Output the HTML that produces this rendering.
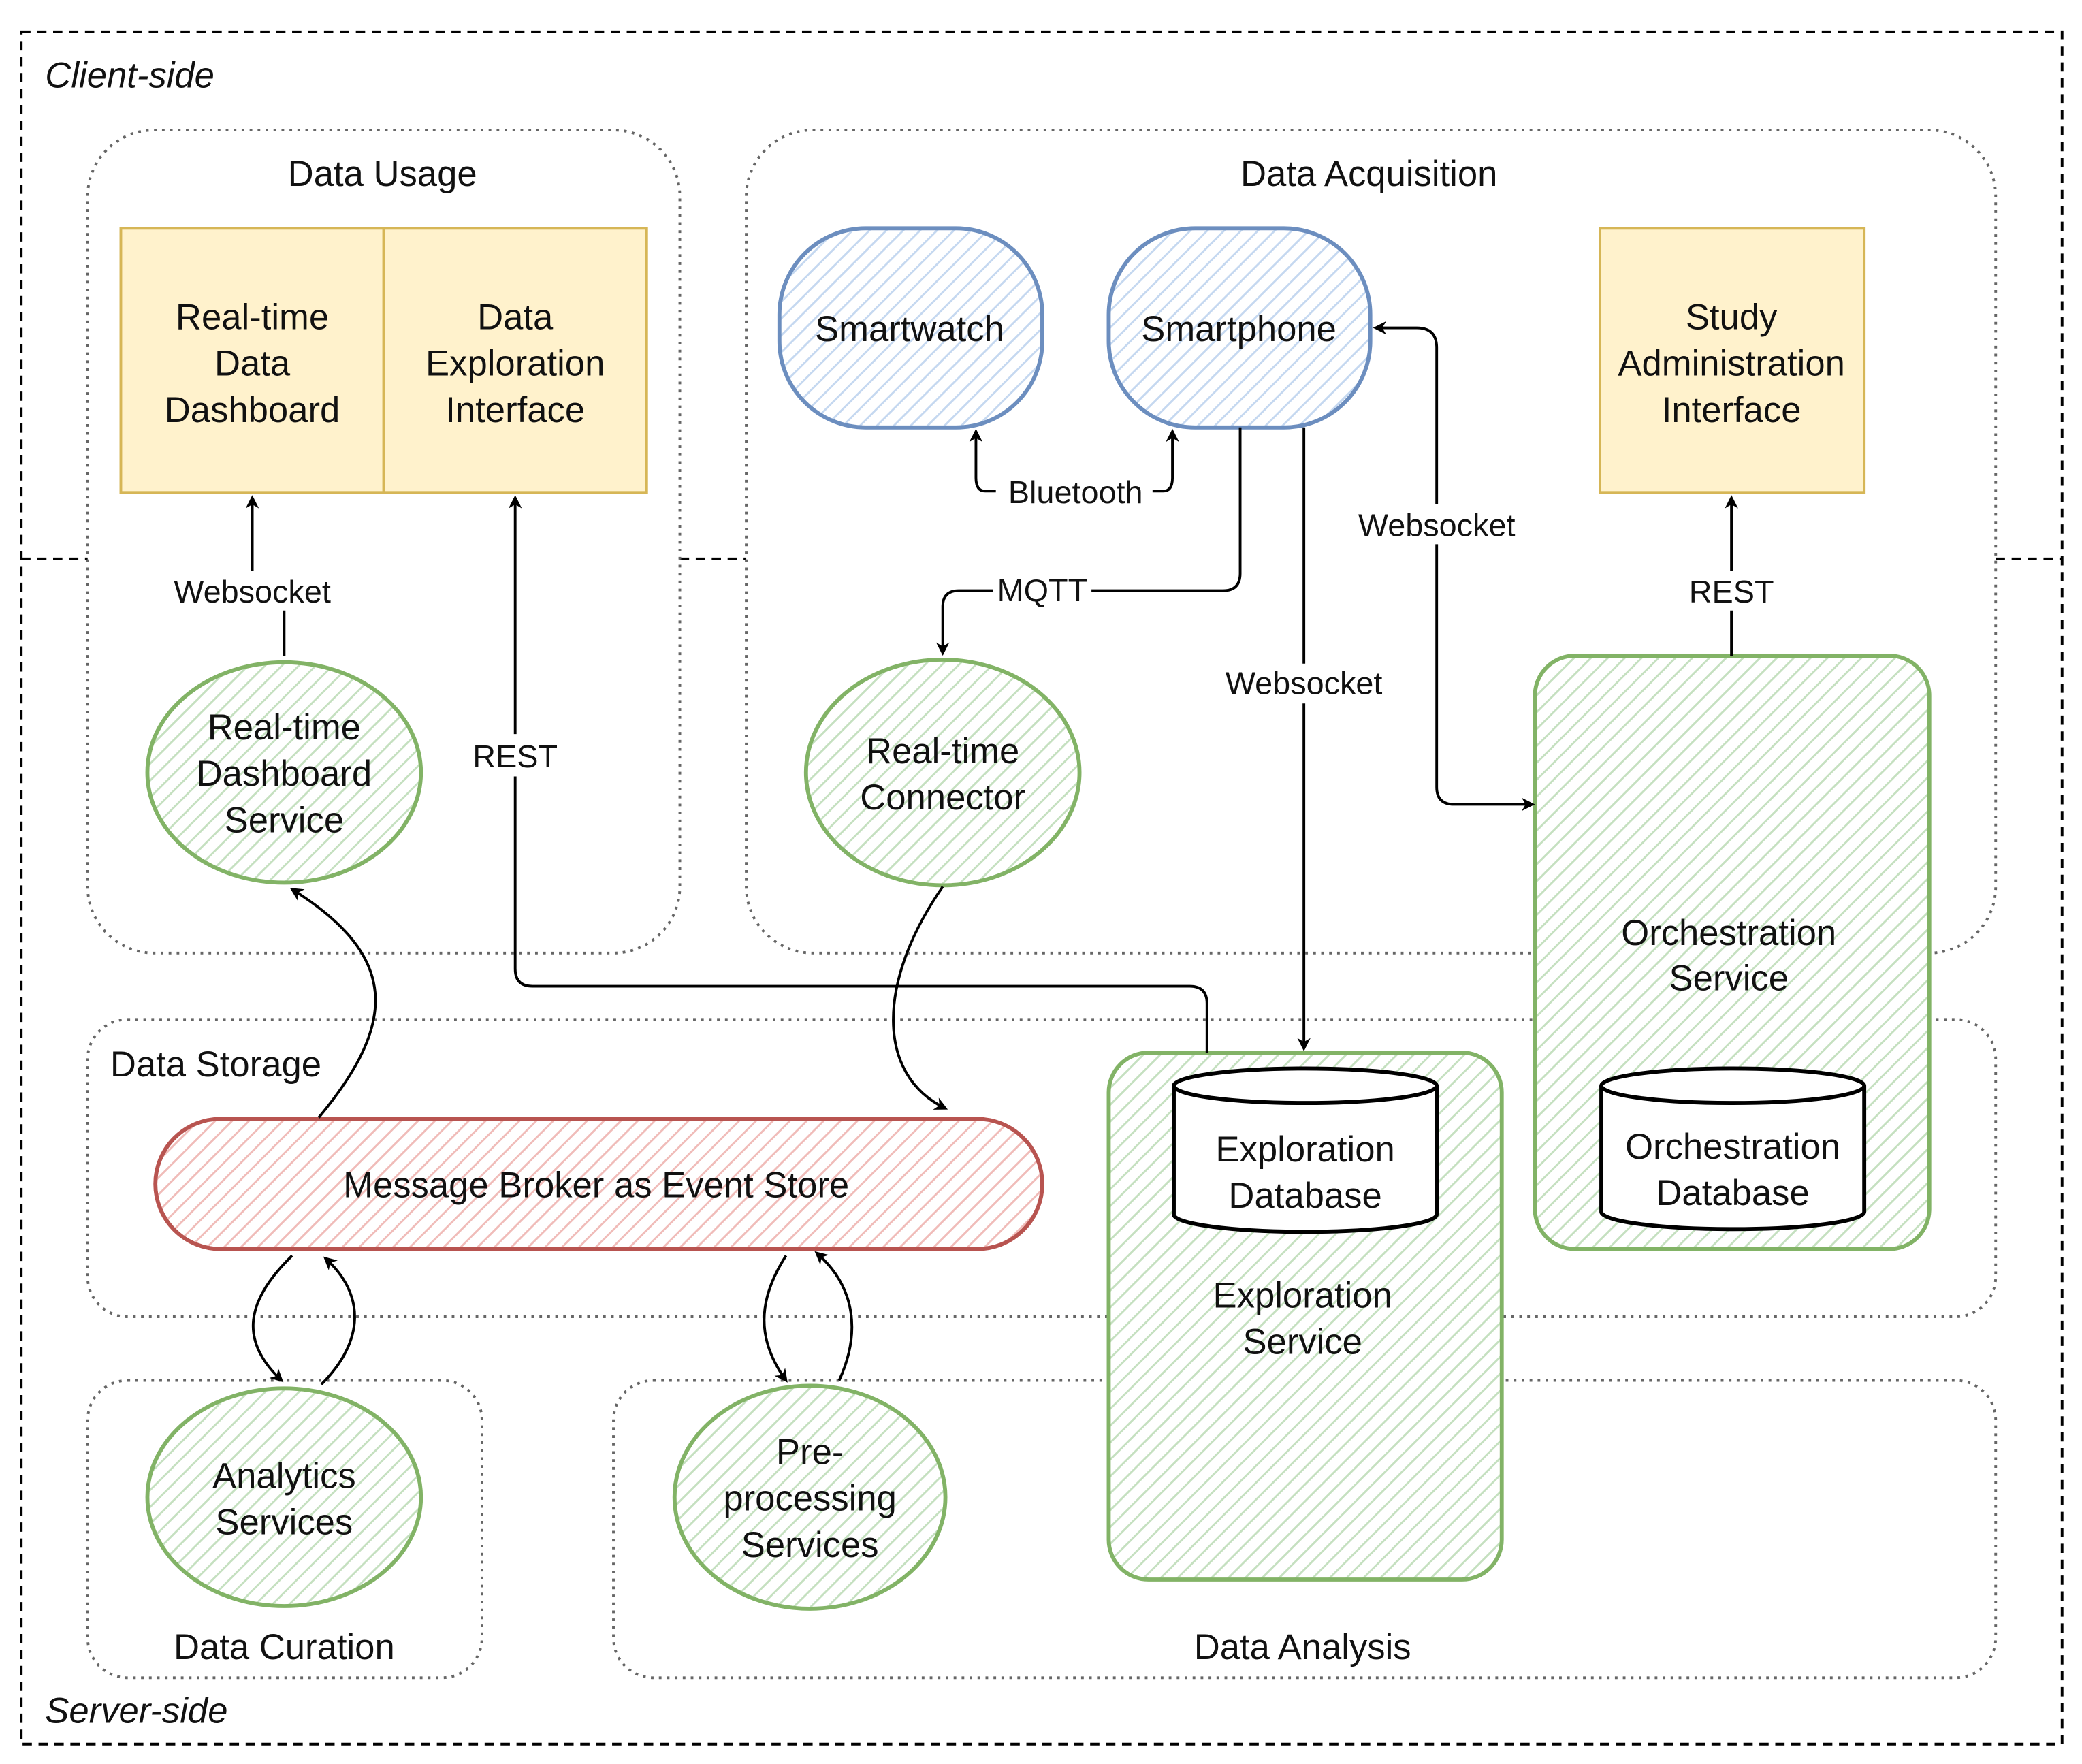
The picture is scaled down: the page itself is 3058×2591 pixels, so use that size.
<!DOCTYPE html>
<html><head><meta charset="utf-8"><style>
html,body{margin:0;padding:0;background:#fff}
svg{display:block}
text{font-family:"Liberation Sans",sans-serif;font-size:27px;fill:#111;text-anchor:middle}
.lbl{font-size:24px}
</style></head><body>
<svg width="3058" height="2591" viewBox="0 0 1568 1329" preserveAspectRatio="none" xmlns="http://www.w3.org/2000/svg">
<defs>
<pattern id="hg" width="9" height="9" patternUnits="userSpaceOnUse" patternTransform="rotate(45)">
<rect width="9" height="9" fill="#fff"/><line x1="0" y1="0" x2="0" y2="9" stroke="#c5e0c0" stroke-width="3"/></pattern>
<pattern id="hb" width="9" height="9" patternUnits="userSpaceOnUse" patternTransform="rotate(45)">
<rect width="9" height="9" fill="#fff"/><line x1="0" y1="0" x2="0" y2="9" stroke="#c5d8f0" stroke-width="3"/></pattern>
<pattern id="hr" width="9" height="9" patternUnits="userSpaceOnUse" patternTransform="rotate(45)">
<rect width="9" height="9" fill="#fff"/><line x1="0" y1="0" x2="0" y2="9" stroke="#f0bcb9" stroke-width="3"/></pattern>
<marker id="a" markerWidth="10" markerHeight="10" refX="8" refY="5" orient="auto" markerUnits="userSpaceOnUse"><path d="M0,0 L10,5 L0,10 L3,5z" fill="#000"/></marker>
</defs>
<rect x="16" y="24" width="1537" height="1290" fill="none" stroke="#000" stroke-width="2" stroke-dasharray="7,5"/>
<g stroke="#000" stroke-width="2" stroke-dasharray="7,5"><line x1="16" y1="421" x2="66" y2="421"/><line x1="512" y1="421" x2="562" y2="421"/><line x1="1503" y1="421" x2="1553" y2="421"/></g>
<text x="34" y="66" style="text-anchor:start;font-style:italic">Client-side</text>
<text x="34" y="1298" style="text-anchor:start;font-style:italic">Server-side</text>
<g fill="none" stroke="#666" stroke-width="2" stroke-dasharray="2,4">
<rect x="66" y="98" width="446" height="620" rx="50"/>
<rect x="562" y="98" width="941" height="620" rx="50"/>
<rect x="66" y="768" width="1437" height="224" rx="30"/>
<rect x="66" y="1040" width="297" height="224" rx="30"/>
<rect x="462" y="1040" width="1041" height="224" rx="30"/>
</g>
<text x="288" y="140">Data Usage</text>
<text x="1031" y="140">Data Acquisition</text>
<text x="83" y="811" style="text-anchor:start">Data Storage</text>
<text x="214" y="1250">Data Curation</text>
<text x="981" y="1250">Data Analysis</text>
<g fill="#fff2cc" stroke="#d6b656" stroke-width="2">
<rect x="91" y="172" width="198" height="199"/><rect x="289" y="172" width="198" height="199"/><rect x="1205" y="172" width="199" height="199"/></g>
<text x="190" y="248">Real-time</text><text x="190" y="283">Data</text><text x="190" y="318">Dashboard</text>
<text x="388" y="248">Data</text><text x="388" y="283">Exploration</text><text x="388" y="318">Interface</text>
<text x="1304" y="248">Study</text><text x="1304" y="283">Administration</text><text x="1304" y="318">Interface</text>
<g fill="url(#hb)" stroke="#6c8ebf" stroke-width="3">
<rect x="587" y="172" width="198" height="150" rx="65"/><rect x="835" y="172" width="197" height="150" rx="65"/></g>
<text x="685" y="257">Smartwatch</text><text x="933" y="257">Smartphone</text>
<g fill="url(#hg)" stroke="#82b366" stroke-width="3">
<rect x="1156" y="494" width="297" height="447" rx="30"/>
<rect x="835" y="793" width="296" height="397" rx="30"/>
<ellipse cx="214" cy="582" rx="103" ry="83"/>
<ellipse cx="710" cy="582" rx="103" ry="85"/>
<ellipse cx="214" cy="1128" rx="103" ry="82"/>
<ellipse cx="610" cy="1128" rx="102" ry="84"/>
</g>
<rect x="117" y="843" width="668" height="98" rx="49" fill="url(#hr)" stroke="#b85450" stroke-width="3"/>
<text x="449" y="902">Message Broker as Event Store</text>
<text x="1302" y="712">Orchestration</text><text x="1302" y="746">Service</text>
<text x="981" y="985">Exploration</text><text x="981" y="1020">Service</text>
<text x="214" y="557">Real-time</text><text x="214" y="592">Dashboard</text><text x="214" y="627">Service</text>
<text x="710" y="575">Real-time</text><text x="710" y="610">Connector</text>
<text x="214" y="1121">Analytics</text><text x="214" y="1156">Services</text>
<text x="610" y="1103">Pre-</text><text x="610" y="1138">processing</text><text x="610" y="1173">Services</text>
<g fill="#fff" stroke="#000" stroke-width="3">
<path d="M884,818 v97 a99,13 0 0 0 198,0 v-97"/><ellipse cx="983" cy="818" rx="99" ry="13"/>
<path d="M1206,818 v95 a99,13 0 0 0 198,0 v-95"/><ellipse cx="1305" cy="818" rx="99" ry="13"/>
</g>
<text x="983" y="875">Exploration</text><text x="983" y="910">Database</text>
<text x="1305" y="873">Orchestration</text><text x="1305" y="908">Database</text>
<g fill="none" stroke="#000" stroke-width="2">
<path d="M190,430 V375" marker-end="url(#a)"/><path d="M214,460 V494"/>
<path d="M388,553 V375" marker-end="url(#a)"/>
<path d="M388,585 V730 q0,13 13,13 H896 q13,0 13,13 V793"/>
<path d="M750,370 h-8 q-7,0 -7,-10 V325" marker-end="url(#a)"/>
<path d="M868,370 h8 q7,0 7,-10 V325" marker-end="url(#a)"/>
<path d="M934,322 V432 q0,13 -13,13 H822"/>
<path d="M748,445 H722 q-12,0 -12,12 V492" marker-end="url(#a)"/>
<path d="M982,322 V500"/><path d="M982,530 V790" marker-end="url(#a)"/>
<path d="M1082,380 V262 q0,-15 -15,-15 H1036" marker-end="url(#a)"/>
<path d="M1082,410 V593 q0,13 13,13 H1154" marker-end="url(#a)"/>
<path d="M1304,494 V460"/><path d="M1304,430 V375" marker-end="url(#a)"/>
<path d="M240,842 C300,770 300,720 220,670" marker-end="url(#a)"/>
<path d="M710,668 C660,740 660,810 712,835" marker-end="url(#a)"/>
<path d="M220,946 C185,980 180,1010 212,1040" marker-end="url(#a)"/>
<path d="M242,1043 C275,1010 275,975 245,948" marker-end="url(#a)"/>
<path d="M592,946 C570,980 570,1010 592,1040" marker-end="url(#a)"/>
<path d="M632,1040 C648,1005 645,970 615,944" marker-end="url(#a)"/>
</g>
<g class="lbl">
<text x="190" y="454" class="lbl">Websocket</text>
<text x="388" y="578" class="lbl">REST</text>
<text x="810" y="379" class="lbl">Bluetooth</text>
<text x="785" y="453" class="lbl">MQTT</text>
<text x="982" y="523" class="lbl">Websocket</text>
<text x="1082" y="404" class="lbl">Websocket</text>
<text x="1304" y="454" class="lbl">REST</text>
</g>
</svg>
</body></html>
